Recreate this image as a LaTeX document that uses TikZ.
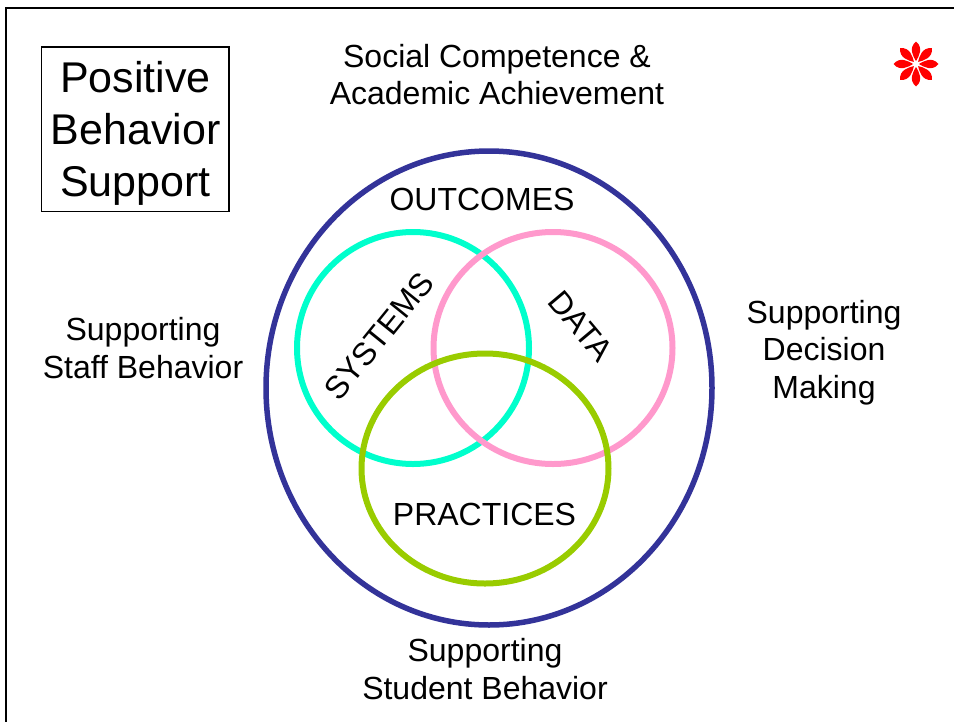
\documentclass[tikz,border=0pt]{standalone}
\usepackage{fontspec}
\setmainfont{Liberation Sans}
\definecolor{navyring}{HTML}{333399}
\definecolor{cyanring}{HTML}{00FFCC}
\definecolor{pinkring}{HTML}{FF99CC}
\definecolor{greenring}{HTML}{99CC00}
\definecolor{flowerred}{HTML}{FF0000}
\begin{document}
\begin{tikzpicture}[x=1pt,y=-1pt,
  lbl/.style={inner sep=0pt, align=center, font=\fontsize{32}{37.5}\selectfont},
  ring/.style={line width=6pt},
  petal/.style={fill=flowerred, draw=none}]
\useasboundingbox (0,0) rectangle (954,721);
% frame
\draw[line width=2.5pt] (6,740) -- (6,8) -- (970,8);
% title box
\node[draw, line width=1.3pt, minimum width=187.5pt, minimum height=164.5pt, inner sep=0pt] (titlebox) at (135.2,129.2) {};
\node[inner sep=0pt, align=center, font=\fontsize{43}{52}\selectfont] (title) at (135.5,133.5) {Positive\\Behavior\\Support};
% rings
\draw[navyring, line width=5.5pt] (489,388) ellipse [x radius=223, y radius=237];
\draw[ring, cyanring] (413,348) circle [radius=116];
\draw[ring, pinkring] (553,348) ellipse [x radius=119.5, y radius=116];
\draw[ring, greenring] (485,468.5) ellipse [x radius=123.5, y radius=115];
% labels
\node[lbl] (social) at (497,74.5) {Social Competence \&\\Academic Achievement};
\node[lbl] (outcomes) at (482,199.5) {OUTCOMES};
\node[lbl, rotate=51] (systems) at (379,336) {SYSTEMS};
\node[lbl, rotate=-50] (data) at (581,326) {DATA};
\node[lbl] (practices) at (484.5,514.5) {PRACTICES};
\node[lbl] (staff) at (143,348) {Supporting\\Staff Behavior};
\node[lbl] (decision) at (824,352.5) {Supporting\\Decision\\Making};
\node[lbl] (student) at (485,669) {Supporting\\Student Behavior};
% red flower
\begin{scope}[shift={(916,64)}]
  \foreach \a in {0,45,...,315}{
    \fill[petal, rotate=\a] (0,3) .. controls (2.5,7) and (8,16) .. (0,22.5) .. controls (-8,16) and (-2.5,7) .. (0,3);
  }
  \fill[white] (0,0) circle [radius=3];
\end{scope}
\end{tikzpicture}
\end{document}
